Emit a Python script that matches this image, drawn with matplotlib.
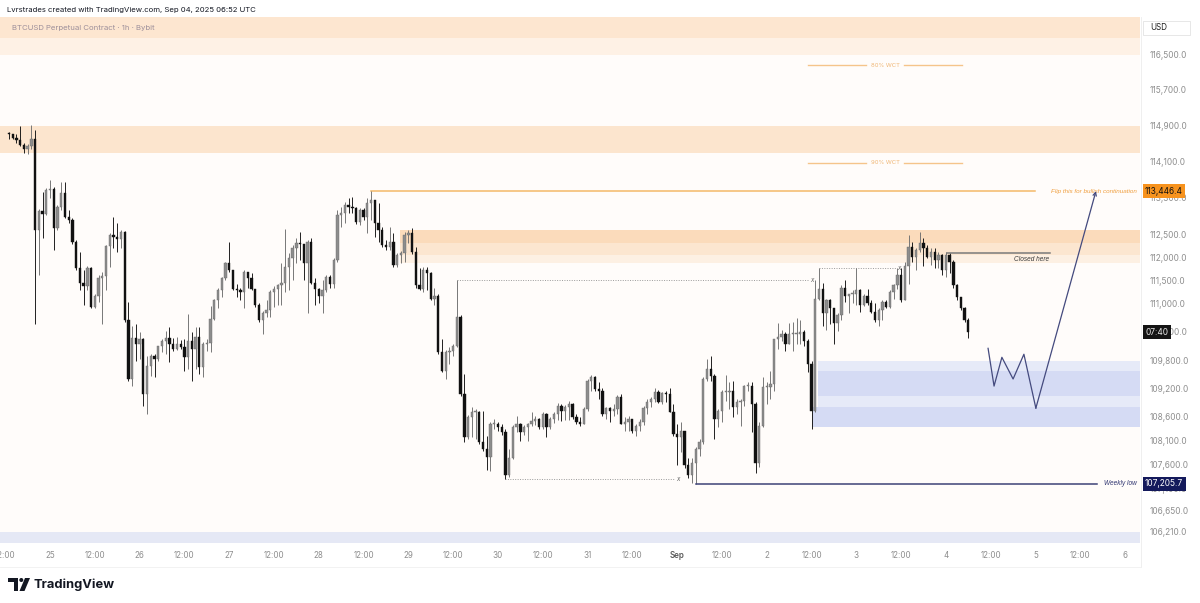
import matplotlib
matplotlib.use('Agg')
import matplotlib.pyplot as plt
import matplotlib.transforms as mtransforms
from matplotlib.patches import Rectangle, Polygon, Circle
from matplotlib.ticker import FixedLocator, FuncFormatter, NullLocator
import numpy as np

plt.rcParams['font.family'] = ['Inter', 'DejaVu Sans']

# ---------------- data (BTCUSD 1h, Bybit) ----------------
hour_offset = -11          # first candle: hours relative to Aug 25 00:00 UTC
first_open = 114720
closes = [
    114700, 114630, 114570, 114460, 114370, 114440, 114610, 112600, 113020, 112950,
    113470, 113500, 112640, 113100, 113410, 112880, 112820, 112340, 111770, 111460,
    111380, 111770, 110940, 111180, 111550, 111600, 112250, 112490, 112450, 112400,
    112560, 110660, 109400, 110280, 110140, 110240, 109080, 109670, 109880, 109820,
    110090, 110200, 110280, 110140, 110030, 110140, 110070, 109860, 110200, 110030,
    110300, 109650, 110140, 110160, 110680, 111080, 111290, 111550, 111880, 111730,
    111330, 111290, 111250, 111680, 111550, 111330, 110980, 110660, 110810, 110870,
    111250, 111330, 111400, 111460, 111790, 111990, 112210, 112320, 112290, 111880,
    112340, 111460, 111330, 111180, 111290, 111570, 111440, 111940, 112930, 112970,
    113150, 113100, 113080, 112770, 113040, 112880, 113190, 113260, 112750, 112600,
    112270, 112230, 112340, 111840, 112050, 112100, 112490, 112530, 112120, 111400,
    111330, 111730, 111660, 111110, 111180, 109970, 109570, 109970, 109990, 110090,
    110730, 109080, 108170, 108600, 108700, 108700, 108070, 107920, 107770, 108450,
    108450, 108390, 108280, 107390, 107750, 108390, 108450, 108280, 108390, 108450,
    108510, 108550, 108390, 108660, 108390, 108550, 108660, 108830, 108720, 108810,
    108870, 108600, 108490, 108450, 108760, 109360, 109440, 109190, 109140, 108660,
    108780, 108720, 108760, 109020, 108450, 108490, 108550, 108300, 108410, 108490,
    108780, 108910, 108980, 109120, 108910, 109100, 109080, 108700, 108240, 108170,
    108300, 107600, 107390, 107640, 107920, 108070, 109400, 109610, 109460, 108550,
    108720, 109120, 109120, 109140, 108810, 108910, 108930, 109250, 109250, 108870,
    107640, 108410, 109230, 109230, 109290, 110240, 110300, 110350, 110140, 110350,
    110350, 110350, 110390, 110200, 109710, 108720, 111110, 111330, 110810, 111080,
    110920, 110600, 110770, 111350, 111180, 111220, 111220, 111290, 110980, 111180,
    111020, 110830, 110660, 110870, 111040, 110940, 111250, 111400, 111620, 111080,
    111810, 112230, 112010, 112160, 112320, 112210, 112010, 112120, 111940, 112050,
    111730, 112050, 111900, 111400, 111140, 110920, 110660, 110390,
]
highs = [
    114760, 114720, 114700, 114890, 114500, 114480, 114920, 114790, 113060, 113430,
    113520, 113690, 113540, 113150, 113650, 113650, 113040, 112860, 112380, 112120,
    111730, 111810, 111790, 111220, 111620, 111680, 112270, 112530, 112880, 112750,
    112600, 112580, 111040, 110520, 110560, 110390, 110280, 109880, 109920, 109920,
    110110, 110240, 110410, 110500, 110280, 110300, 110220, 110240, 110790, 110390,
    110500, 110500, 110180, 110240, 110960, 111110, 111350, 111570, 111900, 112340,
    111730, 111440, 111350, 111730, 111680, 111660, 111330, 111020, 110850, 111080,
    111290, 111380, 111440, 111880, 112620, 112100, 112270, 112420, 112560, 112300,
    112380, 112420, 111550, 111350, 111510, 111620, 111620, 111990, 113040, 113100,
    113210, 113300, 113320, 113100, 113080, 113080, 113300, 113446.4, 113260, 113190,
    112670, 112380, 112670, 112530, 112100, 112140, 112560, 112600, 112640, 112230,
    111770, 111790, 111790, 111680, 111350, 111220, 110240, 110010, 110070, 110140,
    111510, 110770, 109500, 108640, 108810, 108760, 108720, 108720, 108190, 108490,
    108550, 108490, 108450, 108340, 107920, 108430, 108620, 108470, 108430, 108470,
    108700, 108620, 108570, 108700, 108680, 108600, 108700, 108890, 108870, 108850,
    108930, 108890, 108660, 108600, 108810, 109400, 109480, 109460, 109330, 109210,
    108810, 108810, 108870, 109060, 109080, 108600, 108620, 108550, 108450, 108550,
    108830, 108980, 109020, 109210, 109170, 109120, 109140, 109210, 108870, 108450,
    108490, 108300, 107750, 107750, 107960, 108130, 109440, 109820, 109880, 109500,
    108760, 109170, 109480, 109330, 109360, 108980, 108980, 109270, 109330, 109330,
    108910, 108490, 109440, 109330, 109570, 110240, 110600, 110450, 110400, 110600,
    110620, 110700, 110660, 110450, 110240, 109780, 111510, 111770, 111460, 111110,
    111100, 110920, 110810, 111400, 111510, 111220, 111290, 111770, 111330, 111220,
    111330, 111080, 111020, 110920, 111080, 111080, 111290, 111440, 111770, 111770,
    111900, 112490, 112340, 112210, 112560, 112420, 112270, 112210, 112210, 112120,
    112080, 112120, 112100, 111940, 111440, 111160, 110940, 110700,
]
lows = [
    114610, 114590, 114520, 114440, 114280, 114260, 114370, 110560, 111620, 112430,
    112930, 113300, 112160, 112600, 113040, 112860, 112750, 112290, 111730, 111290,
    110980, 111290, 110920, 110920, 111040, 110560, 111290, 111790, 112210, 112120,
    112210, 110620, 109360, 109250, 109780, 109820, 108830, 108660, 109460, 109440,
    109780, 109970, 109920, 109760, 109990, 110010, 110030, 109570, 109610, 109360,
    109610, 109500, 109440, 109990, 109970, 110660, 110920, 111140, 111510, 111680,
    111290, 111140, 111080, 110920, 111350, 111290, 110940, 110620, 110350, 110710,
    110730, 110940, 110980, 110980, 111250, 111290, 111510, 111880, 111940, 111510,
    110810, 111440, 110980, 111020, 110810, 111250, 111350, 111350, 111900, 112670,
    112750, 112970, 112970, 112730, 112710, 112820, 112530, 112820, 112450, 112340,
    112230, 112160, 112160, 111790, 111790, 111880, 111900, 112320, 112070, 111350,
    111290, 111250, 111290, 111080, 110980, 109920, 109550, 109400, 109710, 109880,
    110070, 109040, 108070, 108130, 108170, 108130, 108030, 107880, 107500, 107460,
    108340, 108300, 108220, 107310, 107350, 107710, 108280, 108090, 108220, 108090,
    108410, 108430, 108340, 108340, 108170, 108340, 108470, 108530, 108510, 108530,
    108530, 108550, 108450, 108410, 108450, 108720, 109140, 109140, 108980, 108620,
    108550, 108490, 108620, 108660, 108450, 108300, 108300, 108260, 108190, 108300,
    108430, 108660, 108810, 108910, 108890, 108870, 108910, 108700, 108190, 107600,
    107860, 107540, 107330, 107220, 107205.7, 107790, 108030, 109360, 109360, 108130,
    108380, 108490, 108930, 108760, 108600, 108660, 108410, 108830, 109140, 108280,
    107430, 107560, 108380, 108870, 108980, 109140, 110030, 110200, 109990, 110140,
    109990, 110140, 110140, 110090, 109550, 108340, 108700, 111080, 110520, 110450,
    110560, 110140, 110410, 110660, 111040, 110810, 111020, 110980, 110830, 110960,
    110980, 110810, 110620, 110520, 110660, 110920, 110920, 111110, 111330, 111040,
    111080, 111440, 111900, 111730, 112120, 111810, 111990, 111840, 111770, 111770,
    111620, 111570, 111660, 111350, 111090, 110870, 110620, 110280,
]

# price axis labels and time axis labels
y_ticks = [116500, 115700, 114900, 114100, 113300, 112500, 112000, 111500, 111000,
           110400, 109800, 109200, 108600, 108100, 107600, 107100, 106650, 106210]
x_tick_hours = list(range(-12, 289, 12))
x_tick_labels = ["12:00", "25", "12:00", "26", "12:00", "27", "12:00", "28", "12:00",
                 "29", "12:00", "30", "12:00", "31", "12:00", "Sep", "12:00", "2",
                 "12:00", "3", "12:00", "4", "12:00", "5", "12:00", "6"]

# zones (price ranges)
supply_top = [(116860, 118000), (116480, 116860)]
supply_mid = (114300, 114890)
supply_zone = [(112316, 112600), (112053, 112316), (111878, 112053)]
demand_zone = [(109566, 109777), (109039, 109566), (108807, 109039), (108384, 108807)]
discount_band = (105800, 106210)

flip_level = 113446.4
weekly_low = 107205.7
closed_level = 112090
wct80_level = 116252
wct90_level = 114069
last_price_label_level = 110389
swept_high_1 = 111510   # from Aug 29 high
swept_high_2 = 111770   # from Sep 2 high
swept_low = 107310      # from Aug 30 low

proj_t = [251.3, 252.9, 255.0, 258.0, 260.9, 264.1, 280.2]
proj_p = [110051, 109250, 109860, 109400, 109925, 108785, 113450]

# ---------------- figure ----------------
W, H = 1200, 603
fig = plt.figure(figsize=(W / 100, H / 100), dpi=100)
fig.patch.set_facecolor('white')
ax = fig.add_axes([0, 1 - 543 / H, 1140 / W, (543 - 17) / H])
ax.set_facecolor('#fffcfa')
ax.set_yscale('log')
ax.set_ylim(105983, 117337)
ax.set_xlim(-13.4, 292.0)
for s in ax.spines.values():
    s.set_visible(False)

def px_to_t(x):
    return (x - 50) / 3.733

# zones
ax.axhspan(*supply_top[0], color='#fde6d0', lw=0, zorder=0.5)
ax.axhspan(*supply_top[1], color='#fef1e5', lw=0, zorder=0.5)
ax.axhspan(*supply_mid, color='#fce5ce', lw=0, zorder=0.5)
z_cols = ['#fbdbbb', '#fce6d0', '#fdf0e3']
t0 = px_to_t(400)
for (lo, hi), col in zip(supply_zone, z_cols):
    ax.add_patch(Rectangle((t0, lo), 400, hi - lo, color=col, lw=0, zorder=0.5))
d_cols = ['#e6eaf8', '#d5dbf4', '#e6eaf8', '#d5dbf4']
d_starts = [px_to_t(818), px_to_t(818), px_to_t(818), px_to_t(812)]
for (lo, hi), col, ts in zip(demand_zone, d_cols, d_starts):
    ax.add_patch(Rectangle((ts, lo), 400, hi - lo, color=col, lw=0, zorder=0.5))
ax.axhspan(*discount_band, color='#e5e8f5', lw=0, zorder=0.5)

# candles
n = len(closes)
t = np.arange(n) + hour_offset
c = np.array(closes, float)
o = np.array([first_open] + closes[:-1], float)
hi_ = np.array(highs, float)
lo_ = np.array(lows, float)
up = c >= o
bot = np.minimum(o, c)
hgt = np.maximum(np.abs(c - o), 22)
ax.vlines(t[up], lo_[up], hi_[up], color='#6e6e6e', lw=0.65, zorder=3)
ax.vlines(t[~up], lo_[~up], hi_[~up], color='#111111', lw=0.65, zorder=3)
ax.bar(t[up], hgt[up], bottom=bot[up], width=0.62, color='#8d8d8d',
       edgecolor='#6a6a6a', linewidth=0.3, zorder=4)
ax.bar(t[~up], hgt[~up], bottom=bot[~up], width=0.62, color='#111111',
       edgecolor='#111111', linewidth=0.3, zorder=4)

# horizontal annotations
orange_line = '#f4b968'
ax.plot([t[97], px_to_t(1035)], [flip_level] * 2, color=orange_line, lw=1.1, zorder=2)
ax.text(px_to_t(1137), flip_level, 'Flip this for bullish continuation', ha='right',
        va='center', fontsize=4.5, color='#ef9d3c', family='Liberation Sans',
        style='italic', zorder=5)

for lvl, lab in [(wct80_level, '80% WCT'), (wct90_level, '90% WCT')]:
    ax.plot([px_to_t(808), px_to_t(866)], [lvl] * 2, color='#f5c48a', lw=1.0, zorder=2)
    ax.plot([px_to_t(904), px_to_t(962)], [lvl] * 2, color='#f5c48a', lw=1.0, zorder=2)
    ax.text(px_to_t(885), lvl, lab, ha='center', va='center', fontsize=4.3,
            color='#f0b878', zorder=5)

ax.plot([px_to_t(947), px_to_t(1050)], [closed_level] * 2, color='#7a7a7a', lw=1.1, zorder=5)
ax.annotate('Closed here', (px_to_t(1049), closed_level), xytext=(0, -4),
            textcoords='offset points', ha='right', va='center', fontsize=4.7,
            color='#3a3a3a', family='Liberation Sans', style='italic', zorder=5)

ax.plot([t[184], px_to_t(1097)], [weekly_low] * 2, color='#3d4277', lw=1.1, zorder=5)
ax.text(px_to_t(1137), weekly_low, 'Weekly low', ha='right', va='center', fontsize=4.7,
        color='#2f3470', family='Liberation Sans', style='italic', zorder=5)

dot_kw = dict(color='#9a9a9a', lw=0.7, ls=(0, (1, 1.5)), zorder=2)
ax.plot([t[120], px_to_t(809)], [swept_high_1] * 2, **dot_kw)
ax.text(px_to_t(812), swept_high_1, 'x', ha='center', va='center', fontsize=4.5,
        color='#666666', style='italic', zorder=5)
ax.plot([t[217], px_to_t(896)], [swept_high_2] * 2, **dot_kw)
ax.text(px_to_t(899), swept_high_2, 'x', ha='center', va='center', fontsize=4.5,
        color='#666666', style='italic', zorder=5)
ax.plot([t[133], px_to_t(675)], [swept_low] * 2, **dot_kw)
ax.text(px_to_t(678), swept_low, 'x', ha='center', va='center', fontsize=4.5,
        color='#666666', style='italic', zorder=5)

# projected path
ax.plot(proj_t[:-1], proj_p[:-1], color='#444a7e', lw=0.9, zorder=5)
ax.annotate('', xy=(proj_t[-1], proj_p[-1]), xytext=(proj_t[-2], proj_p[-2]),
            arrowprops=dict(arrowstyle='->', color='#444a7e', lw=0.9,
                            mutation_scale=6, shrinkA=0, shrinkB=0), zorder=5)

# axes ticks
ax.yaxis.tick_right()
ax.yaxis.set_major_locator(FixedLocator(y_ticks))
ax.yaxis.set_minor_locator(NullLocator())
ax.yaxis.set_major_formatter(FuncFormatter(lambda v, p: f"{v:,.1f}"))
ax.tick_params(axis='y', length=0, pad=7.0, labelsize=6.0, labelcolor='#8e8e8e')
ax.xaxis.set_major_locator(FixedLocator(x_tick_hours))
ax.xaxis.set_minor_locator(NullLocator())
ax.set_xticklabels(x_tick_labels)
ax.tick_params(axis='x', length=0, pad=6.0, labelsize=5.8, labelcolor='#8e8e8e')
for lab in ax.get_xticklabels():
    if lab.get_text() == 'Sep':
        lab.set_color('#5c5c5c')
        lab.set_fontweight('semibold')

# price-axis boxes
btr = mtransforms.blended_transform_factory(ax.transAxes, ax.transData)
xb = 1 + 5 / 1140
ax.text(xb, flip_level, '113,446.4', transform=btr, ha='left', va='center', fontsize=6.0,
        color='#111111', clip_on=False, zorder=10,
        bbox=dict(boxstyle='square,pad=0.3', fc='#f7931e', ec='none'))
ax.text(xb, last_price_label_level, '07:40', transform=btr, ha='left', va='center',
        fontsize=6.0, color='#e8e8e8', clip_on=False, zorder=10,
        bbox=dict(boxstyle='square,pad=0.3', fc='#141414', ec='none'))
ax.text(xb, weekly_low, '107,205.7', transform=btr, ha='left', va='center', fontsize=6.0,
        color='#ffffff', clip_on=False, zorder=10,
        bbox=dict(boxstyle='square,pad=0.3', fc='#141a5c', ec='none'))

# figure-level decorations (pixel coordinates)
ptr = mtransforms.Affine2D().scale(1 / W, -1 / H).translate(0, 1) + fig.transFigure
fig.add_artist(Rectangle((1143, 21), 47, 14, transform=ptr, fc='white', ec='#e3e3e3', lw=0.6))
fig.text(1150 / W, 1 - 28 / H, 'USD', fontsize=5.8, color='#222222', va='center', ha='left')
fig.add_artist(plt.Line2D([1140.5, 1140.5], [17, 567], transform=ptr, color='#ececec', lw=0.6))
fig.add_artist(plt.Line2D([0, 1141], [567, 567], transform=ptr, color='#f0f0f0', lw=0.6))

fig.text(7 / W, 1 - 10 / H, 'Lvrstrades created with TradingView.com, Sep 04, 2025 06:52 UTC',
         fontsize=5.55, color='#131722', va='center', ha='left')
fig.text(12 / W, 1 - 28 / H, 'BTCUSD Perpetual Contract · 1h · Bybit', fontsize=5.6,
         color='#9d8f9a', va='center', ha='left')

# TradingView logo
fig.add_artist(Polygon([[8, 578], [18, 578], [18, 591], [13.5, 591], [13.5, 582], [8, 582]],
                       closed=True, transform=ptr, fc='#131722', ec='none'))
fig.add_artist(Circle((21.3, 580), 2.0, transform=ptr, fc='#131722', ec='none'))
fig.add_artist(Polygon([[25, 578], [30, 578], [24.5, 591], [19.5, 591]], closed=True,
                       transform=ptr, fc='#131722', ec='none'))
fig.text(33 / W, 1 - 584.5 / H, 'TradingView', fontsize=9.3, fontweight='bold',
         color='#131722', va='center', ha='left')

fig.savefig('out.png', dpi=100, facecolor='white')
